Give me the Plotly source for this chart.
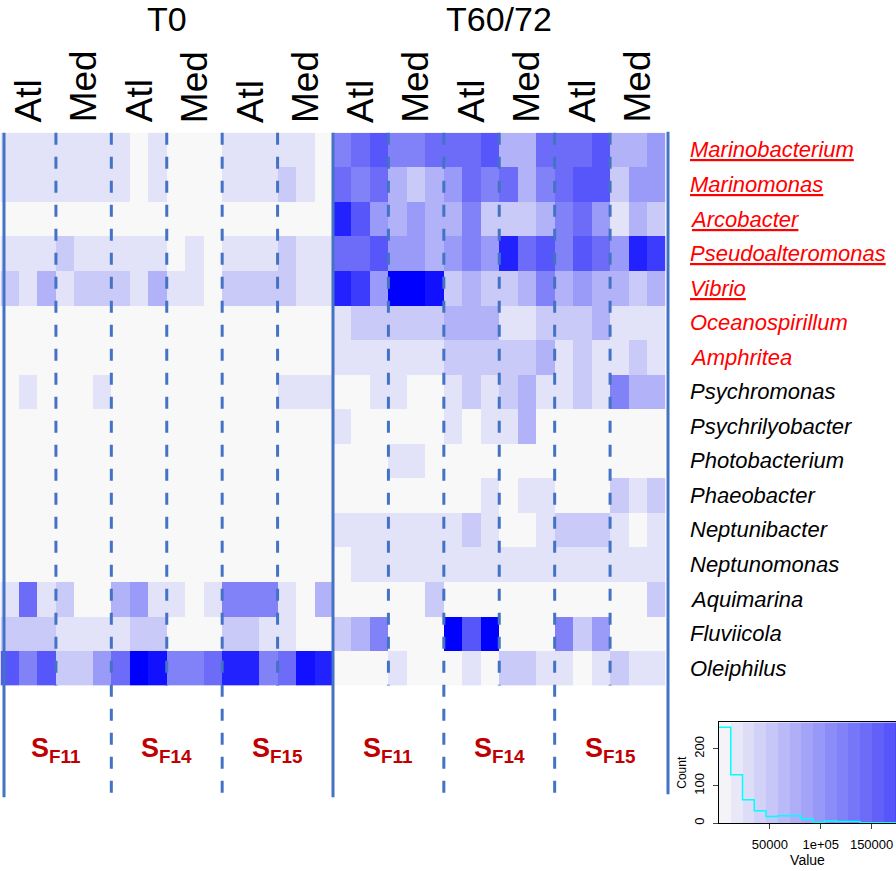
import plotly.graph_objects as go

# ---------------- data ----------------
genera = ["Marinobacterium", "Marinomonas", "Arcobacter", "Pseudoalteromonas", "Vibrio",
          "Oceanospirillum", "Amphritea", "Psychromonas", "Psychrilyobacter", "Photobacterium",
          "Phaeobacter", "Neptunibacter", "Neptunomonas", "Aquimarina", "Fluviicola", "Oleiphilus"]
underlined = ["Marinobacterium", "Marinomonas", "Arcobacter", "Pseudoalteromonas", "Vibrio"]
red_genera = underlined + ["Oceanospirillum", "Amphritea"]

timepoints = ["T0", "T60/72"]
origins = ["Atl", "Med"]
sites = ["F11", "F14", "F15"]

# abundance (reads) per genus, 18 samples per timepoint (site x origin x 3 replicates)
t0_values = [
    [24000, 24000, 24000, 24000, 24000, 24000, 24000, 0, 24000, 0, 0, 0, 24000, 24000, 24000, 24000, 24000, 0],
    [24000, 24000, 24000, 24000, 24000, 24000, 24000, 0, 24000, 0, 0, 0, 24000, 24000, 24000, 48000, 24000, 0],
    [0] * 18,
    [24000, 24000, 24000, 48000, 24000, 24000, 24000, 24000, 24000, 0, 24000, 0, 24000, 24000, 24000, 48000, 24000, 24000],
    [48000, 24000, 72000, 24000, 48000, 48000, 48000, 24000, 72000, 24000, 24000, 0, 48000, 48000, 48000, 48000, 24000, 24000],
    [0] * 18,
    [0] * 18,
    [0, 24000, 0, 0, 0, 24000, 0, 0, 0, 0, 0, 0, 0, 0, 0, 24000, 24000, 24000],
    [0] * 18,
    [0] * 18,
    [0] * 18,
    [0] * 18,
    [0] * 18,
    [24000, 144000, 24000, 48000, 0, 0, 72000, 96000, 24000, 24000, 0, 24000, 120000, 120000, 120000, 24000, 0, 72000],
    [48000, 48000, 48000, 24000, 24000, 24000, 24000, 48000, 48000, 0, 0, 0, 48000, 48000, 24000, 24000, 0, 0],
    [168000, 120000, 168000, 48000, 48000, 96000, 144000, 240000, 228000, 120000, 120000, 144000, 216000, 216000, 120000, 144000, 228000, 216000],
]
t60_values = [
    [120000, 144000, 168000, 120000, 120000, 144000, 144000, 144000, 168000, 72000, 72000, 144000, 144000, 144000, 168000, 72000, 72000, 96000],
    [144000, 120000, 144000, 72000, 48000, 72000, 96000, 144000, 120000, 144000, 72000, 120000, 144000, 168000, 168000, 48000, 96000, 96000],
    [216000, 168000, 96000, 72000, 96000, 72000, 72000, 120000, 48000, 48000, 48000, 72000, 120000, 144000, 96000, 24000, 72000, 48000],
    [144000, 144000, 168000, 96000, 96000, 72000, 96000, 120000, 96000, 216000, 144000, 168000, 120000, 168000, 144000, 96000, 216000, 192000],
    [216000, 192000, 96000, 240000, 240000, 228000, 48000, 72000, 48000, 48000, 72000, 120000, 72000, 96000, 72000, 72000, 48000, 72000],
    [24000, 48000, 48000, 48000, 48000, 48000, 72000, 72000, 72000, 24000, 24000, 48000, 48000, 48000, 72000, 24000, 24000, 24000],
    [24000, 24000, 24000, 24000, 24000, 24000, 48000, 48000, 48000, 48000, 48000, 72000, 24000, 48000, 24000, 24000, 48000, 24000],
    [0, 0, 24000, 24000, 0, 0, 24000, 48000, 24000, 48000, 72000, 24000, 24000, 48000, 24000, 120000, 72000, 72000],
    [24000, 0, 0, 0, 0, 0, 24000, 0, 24000, 24000, 72000, 0, 0, 0, 0, 0, 0, 0],
    [0, 0, 0, 24000, 24000, 0, 0, 0, 0, 0, 0, 0, 0, 0, 0, 0, 0, 0],
    [0, 0, 0, 0, 0, 0, 0, 0, 24000, 0, 24000, 24000, 0, 0, 0, 48000, 24000, 48000],
    [24000, 24000, 24000, 24000, 24000, 24000, 24000, 48000, 24000, 0, 0, 24000, 48000, 48000, 48000, 24000, 0, 24000],
    [0, 24000, 24000, 24000, 24000, 24000, 24000, 24000, 24000, 24000, 24000, 24000, 24000, 24000, 24000, 24000, 24000, 24000],
    [0, 0, 0, 0, 0, 48000, 0, 0, 0, 0, 0, 0, 0, 0, 0, 0, 0, 48000],
    [48000, 72000, 120000, 0, 0, 0, 240000, 168000, 240000, 0, 0, 0, 120000, 48000, 96000, 0, 0, 0],
    [0, 0, 0, 24000, 0, 0, 0, 24000, 0, 48000, 48000, 24000, 24000, 0, 24000, 48000, 24000, 24000],
]

# colour key histogram
hist_edges = [0, 11550, 23100, 34650, 46200, 57750, 69300, 80850, 92400, 103950,
              115500, 127050, 138600, 150150, 161700, 173250, 184800]
hist_counts = [258, 130, 63, 33, 18, 20, 20, 12, 2, 6, 4, 4, 1, 1, 1, 1]
key_ticks = [50000, 100000, 150000]
key_ticklabels = ["50000", "1e+05", "150000"]
count_ticks = [0, 100, 200]

# ---------------- styling ----------------
W, H = 896, 871
colorscale = [[0.0, "#f8f8f8"], [0.1, "#e2e2f8"], [0.2, "#cacaf8"], [0.3, "#b2b2f8"],
              [0.5, "#8282f8"], [0.7, "#5656fa"], [0.9, "#2222fe"], [1.0, "#0000ff"]]
ZMAX = 240000
line_col = "#4472c4"
hm_left, hm_right, hm_top, hm_bot = 0.5, 665.5, 133, 687


def py(pix):
    return 1 - pix / H


z = [a + b for a, b in zip(t0_values, t60_values)]
ncol = len(z[0])
xs = list(range(ncol))
ys = list(range(len(genera)))

fig = go.Figure()
fig.add_trace(go.Heatmap(z=z, x=xs, y=ys, colorscale=colorscale, zmin=0, zmax=ZMAX,
                         showscale=False, xaxis="x", yaxis="y", hoverinfo="skip"))

# colour key gradient
centers = [(hist_edges[i] + hist_edges[i + 1]) / 2 for i in range(len(hist_edges) - 1)]
fig.add_trace(go.Heatmap(z=[centers], x=hist_edges, y=[0, 271], colorscale=colorscale,
                         zmin=0, zmax=ZMAX, showscale=False, xaxis="x2", yaxis="y2",
                         hoverinfo="skip"))
fig.add_trace(go.Scatter(x=hist_edges, y=hist_counts + [hist_counts[-1]], mode="lines",
                         line=dict(color="#00ffff", width=1.5, shape="hv"),
                         xaxis="x2", yaxis="y2", hoverinfo="skip", showlegend=False))

col_w = (hm_right - hm_left) / ncol
shapes = []
n_group = len(sites) * len(origins)
per_group = 3
# dashed lines between Atl/Med groups
for t in range(len(timepoints)):
    for g in range(1, n_group):
        xb = t * n_group * per_group + g * per_group - 0.5
        site_border = (g % len(origins) == 0)
        shapes.append(dict(type="line", xref="x", yref="paper", x0=xb, x1=xb,
                           y0=py(hm_top), y1=py(796 if site_border else hm_bot),
                           line=dict(color=line_col, width=3, dash="12px,12px")))
# solid lines (left, middle inside the axis range; right one just past the heatmap edge)
for xb, off, bot in [(-0.5, 3.5, 799), (n_group * per_group - 0.5, 0, 799)]:
    xx = xb + off / col_w
    shapes.append(dict(type="line", xref="x", yref="paper", x0=xx, x1=xx,
                       y0=py(hm_top), y1=py(bot), line=dict(color=line_col, width=3)))
shapes.append(dict(type="line", xref="paper", yref="paper", x0=(hm_right + 2.5) / W,
                   x1=(hm_right + 2.5) / W, y0=py(hm_top - 1), y1=py(796),
                   line=dict(color=line_col, width=3)))

annotations = []
# row labels
for i, gname in enumerate(genera):
    txt = f"<u>{gname}</u>" if gname in underlined else gname
    annotations.append(dict(text=txt, xref="paper", yref="y", x=688 / W, y=i,
                            xanchor="left", yanchor="middle", showarrow=False,
                            font=dict(family="Liberation Sans", size=22, style="italic",
                                      color="#ff0000" if gname in red_genera else "#000000")))
# column headers
for t, tp in enumerate(timepoints):
    base = t * n_group * per_group
    annotations.append(dict(text=tp, xref="x", yref="paper",
                            x=base + n_group * per_group / 2 - 0.5, y=py(19),
                            xanchor="center", yanchor="middle", showarrow=False,
                            font=dict(family="Liberation Sans", size=34, color="#000000")))
    for s in range(len(sites)):
        for o, org in enumerate(origins):
            g = s * len(origins) + o
            annotations.append(dict(text=org, xref="x", yref="paper",
                                    x=base + g * per_group + 1, y=py(125),
                                    xanchor="center", yanchor="bottom", textangle=-90,
                                    showarrow=False,
                                    font=dict(family="Liberation Sans", size=37, color="#000000")))
        annotations.append(dict(text=f"<b>S<sub>{sites[s]}</sub></b>", xref="x", yref="paper",
                                x=base + s * len(origins) * per_group + 2.5, y=py(752),
                                xanchor="center", yanchor="middle", showarrow=False,
                                font=dict(family="Liberation Sans", size=27, color="#c00000")))

fig.update_layout(
    width=W, height=H, margin=dict(l=0, r=0, t=0, b=0),
    paper_bgcolor="white", plot_bgcolor="white", showlegend=False,
    xaxis=dict(domain=[hm_left / W, hm_right / W], range=[-0.5, ncol - 0.5],
               showticklabels=False, showgrid=False, zeroline=False, ticks=""),
    yaxis=dict(domain=[py(hm_bot), py(hm_top)], range=[len(genera) - 0.5, -0.5],
               showticklabels=False, showgrid=False, zeroline=False, ticks=""),
    xaxis2=dict(domain=[719 / W, 1.0], range=[0, 174000], anchor="y2",
                tickvals=key_ticks, ticktext=key_ticklabels, ticks="outside", ticklen=5,
                ticklabelstandoff=4,
                tickfont=dict(family="Liberation Sans", size=13, color="#000000"),
                title=dict(text="Value", font=dict(family="Liberation Sans", size=14, color="#000000"),
                           standoff=2),
                showline=True, linecolor="#000000", linewidth=1, mirror=True,
                showgrid=False, zeroline=False),
    yaxis2=dict(domain=[py(825), py(724)], range=[0, 271], anchor="x2",
                tickvals=count_ticks, ticks="outside", ticklen=5, tickangle=-90,
                ticklabelstandoff=4,
                tickfont=dict(family="Liberation Sans", size=13, color="#000000"),
                title=dict(text="Count", font=dict(family="Liberation Sans", size=12, color="#000000"),
                           standoff=2),
                showline=True, linecolor="#000000", linewidth=1,
                showgrid=False, zeroline=False),
    shapes=shapes, annotations=annotations,
)

fig.write_html("out.html", config={"displayModeBar": False},
               post_script="document.body.style.margin='0';"
                           "document.body.style.overflow='hidden';")
